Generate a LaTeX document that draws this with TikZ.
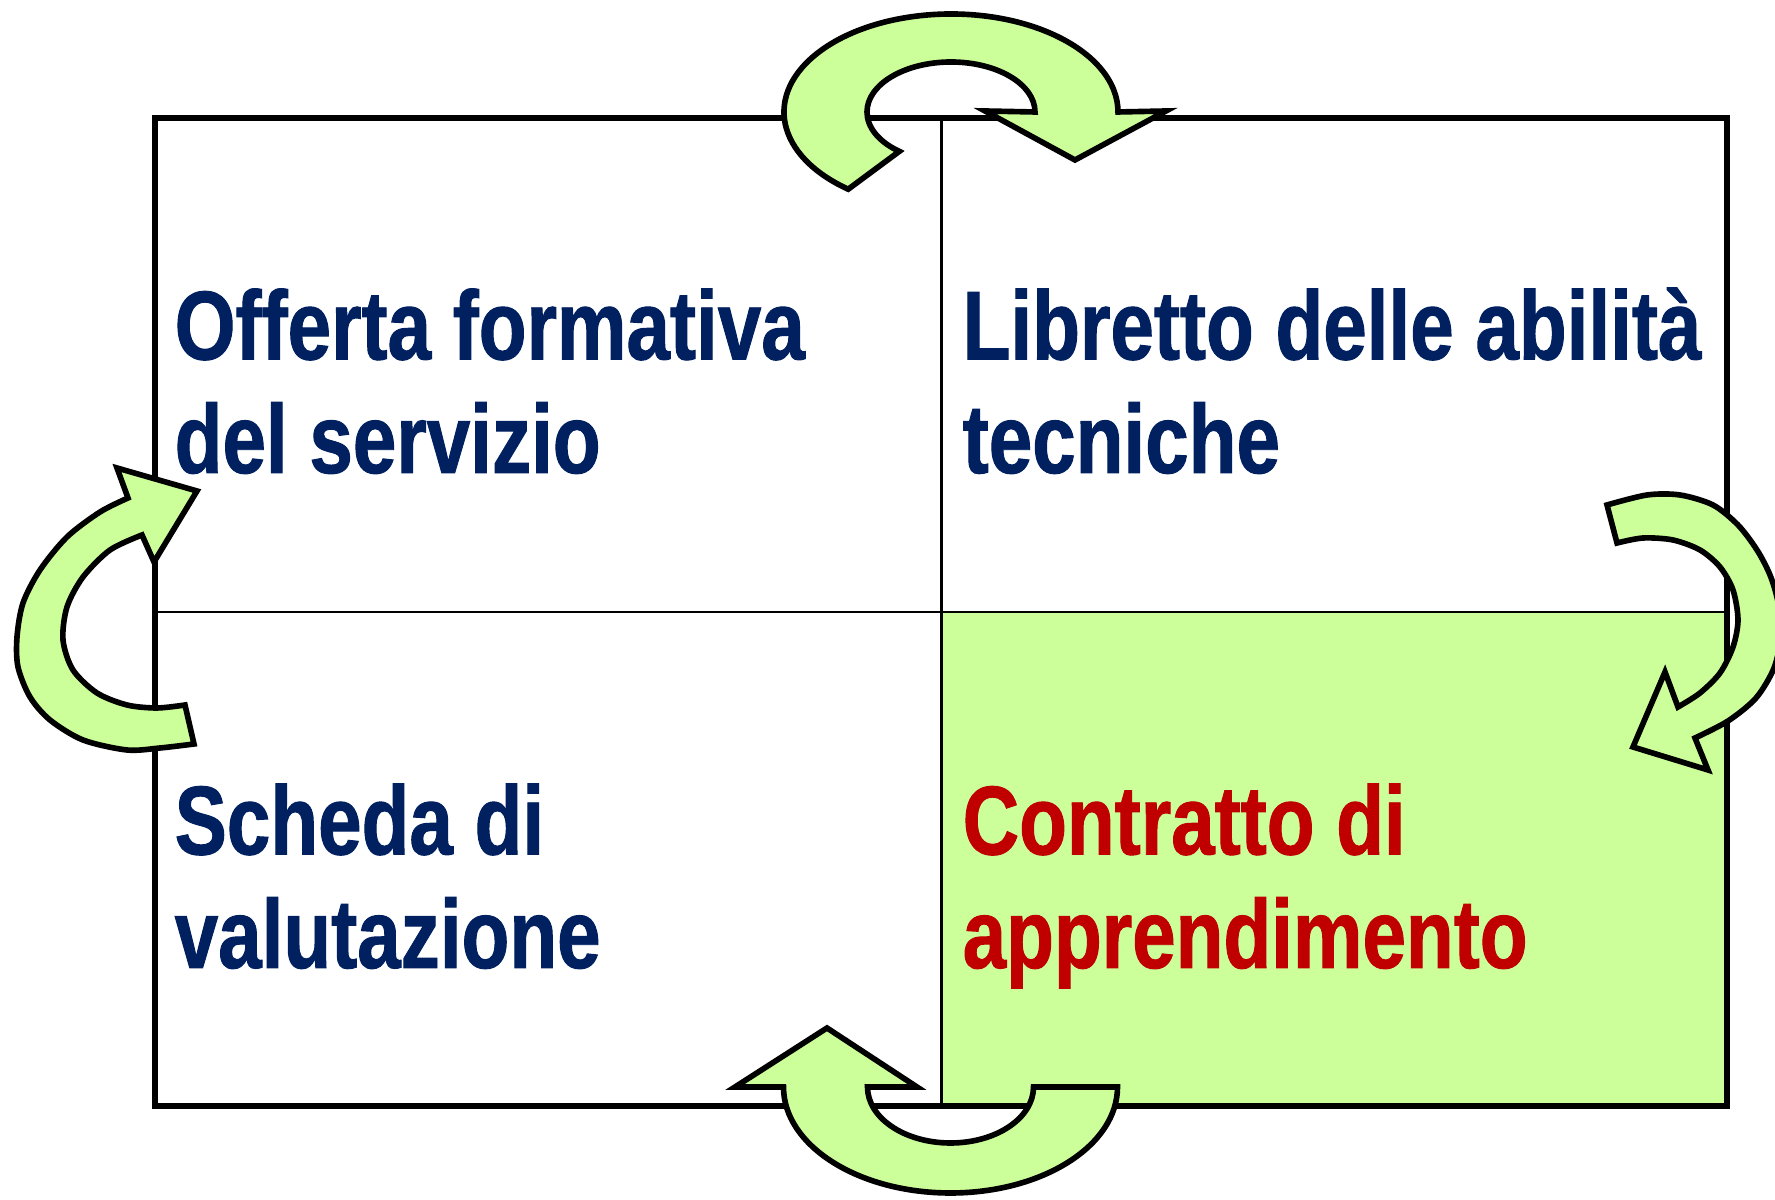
\documentclass[tikz,border=0pt]{standalone}
\usepackage{fontspec}
\newfontfamily\quadfont[FakeStretch=0.80, FakeBold=1]{Liberation Sans}
\usepackage{xcolor}
\usepackage{tikz}
\usetikzlibrary{calc}
\pgfdeclarelayer{background}
\pgfsetlayers{background,main}
\definecolor{txtblue}{RGB}{0,32,96}
\definecolor{txtred}{RGB}{192,0,0}
\definecolor{leafgreen}{RGB}{204,255,153}
\tikzstyle{quadtext} = [anchor=base west, align=left, inner sep=0pt, text=txtblue, font=\quadfont\bfseries\fontsize{27.8pt}{32.3pt}\selectfont]
\tikzstyle{keytext}  = [quadtext, text=txtred]
\tikzstyle{outerbox} = [draw=black, line width=1.7pt]
\tikzstyle{divider}  = [draw=black, line width=0.75pt]
\tikzstyle{bigarrow} = [draw=black, line width=1.6pt, fill=leafgreen, line join=miter]

\begin{document}
\begin{tikzpicture}[x=0.01cm, y=0.01cm]
    \path [use as bounding box, clip] (0,0) rectangle (1775,1200);

    % corners and centre of the grid
    \coordinate (nw)  at (155,1082);
    \coordinate (se)  at (1727,94);
    \coordinate (mid) at (941.5,588);

    \begin{pgfonlayer}{background}
      \fill [leafgreen] (mid) rectangle (se);
    \end{pgfonlayer}
    \draw [divider] (mid |- nw) -- (mid |- se);
    \draw [divider] (mid -| nw) -- (mid -| se);
    \draw [outerbox] (nw) rectangle (se);

    % base anchor sits on the second line
    \node (offerta)   [quadtext] at (174,727) {Offerta formativa\\del servizio};
    \node (libretto)  [quadtext] at (962,727) {Libretto delle abilità\\tecniche};
    \node (scheda)    [quadtext] at (174,232) {Scheda di\\valutazione};
    \node (contratto) [keytext]  at (962,232) {Contratto di\\apprendimento};

    % top arrow
    \draw [bigarrow] ([shift={(232:167 and 98)}]951,1088)
        arc [start angle=232, end angle=0, x radius=167, y radius=98]
        -- (1166,1089) -- (1075,1040) -- (985,1089) -- (1035,1088)
        arc [start angle=0, end angle=232, x radius=84, y radius=50] -- cycle;

    % right arrow
    \draw [bigarrow] (1607,695) -- (1617,657)
        -- plot [smooth] coordinates {(1617,657) (1643,662) (1673,660) (1700,650) (1720,633) (1733,610) (1738,580) (1733,553) (1720,527) (1700,507) (1678,493)}
        -- (1665,528) -- (1633,453) -- (1708,430) -- (1695,462)
        -- plot [smooth] coordinates {(1695,462) (1728,479) (1756,502) (1774,532) (1781,565) (1778,598) (1770,625) (1757,650) (1738,675) (1713,695) (1680,705) (1647,705) (1607,695)}
        -- cycle;

    % bottom arrow
    \draw [bigarrow] (1117.5,113) -- (1033.5,113)
        arc [start angle=0, end angle=-180, x radius=83, y radius=56]
        -- (917,113) -- (827,172) -- (735,113) -- (783.5,113)
        arc [start angle=180, end angle=360, x radius=167, y radius=106] -- cycle;

    % left arrow
    \draw [bigarrow] (128,702) -- (117,732) -- (197,709) -- (154,638) -- (142,665)
        -- plot [smooth] coordinates {(142,665) (110,650) (83,623) (67,593) (63,560) (73,530) (97,507) (127,495) (157,492) (185,495)}
        -- plot [smooth] coordinates {(194,456) (160,452) (127,450) (83,460) (50,480) (30,503) (18,533) (17,563) (23,597) (40,630) (67,663) (100,688) (128,702)}
        -- cycle;
\end{tikzpicture}
\end{document}
